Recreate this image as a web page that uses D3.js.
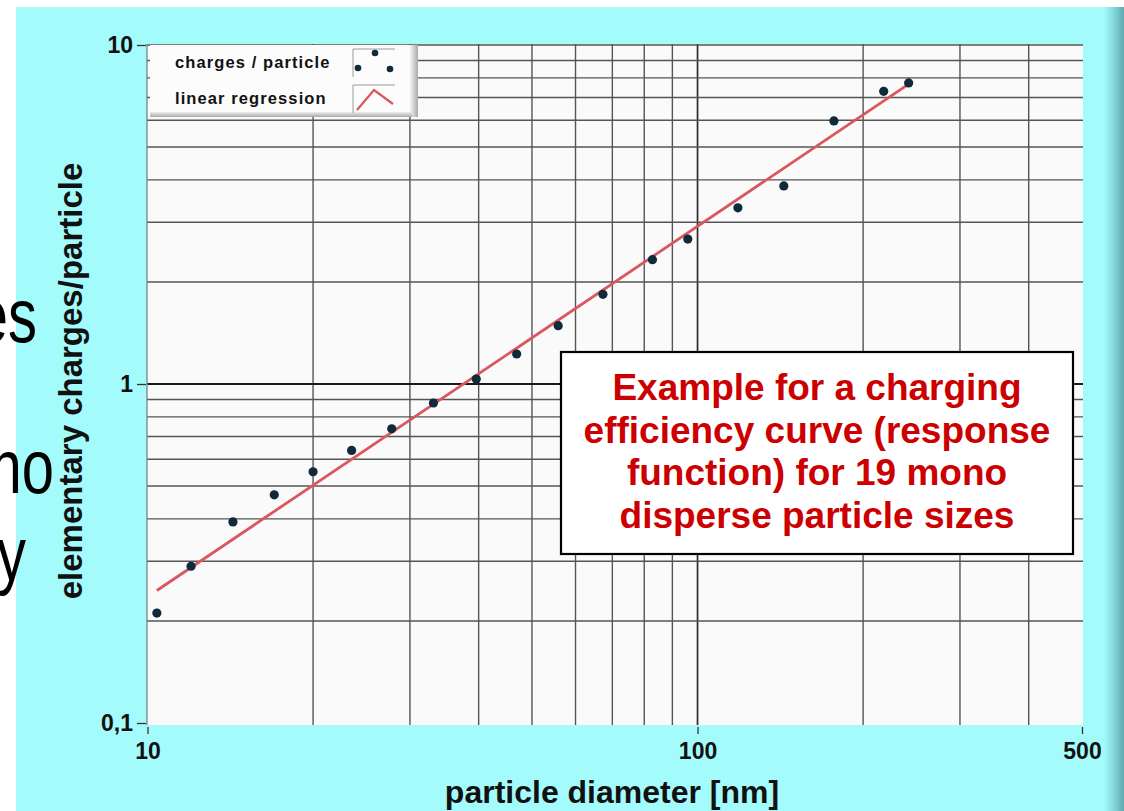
<!DOCTYPE html>
<html>
<head>
<meta charset="utf-8">
<script src="https://cdn.jsdelivr.net/npm/d3@7"></script>
<style>
  html, body { margin: 0; padding: 0; background: #ffffff; }
  svg { display: block; }
  text { font-family: "Liberation Sans", Arial, sans-serif; }
</style>
</head>
<body>
<svg id="chart" width="1124" height="811"></svg>
<script>
// ---- data ----
const diameters = [10.4, 12.0, 14.3, 17.0, 20.0, 23.5, 27.8, 33.1, 39.6, 46.9, 55.8, 67.3, 82.8, 96.0, 118.4, 143.5, 177, 218, 242];
const charges   = [0.211, 0.290, 0.392, 0.471, 0.551, 0.637, 0.738, 0.879, 1.034, 1.226, 1.486, 1.839, 2.326, 2.677, 3.31, 3.84, 5.97, 7.30, 7.73];
const regX = [10.4, 242];
const regY = [0.246, 7.67];
const xTickValues = [10, 100, 500];
const xTickLabels = ["10", "100", "500"];
const yTickValues = [0.1, 1, 10];
const yTickLabels = ["0,1", "1", "10"];
const xGridValues = [20, 30, 40, 50, 60, 70, 80, 90, 100, 200, 300, 400];
const yGridValues = [0.2, 0.3, 0.4, 0.5, 0.6, 0.7, 0.8, 0.9, 1, 2, 3, 4, 5, 6, 7, 8, 9, 10];
const legendLabels = ["charges / particle", "linear regression"];
const noteLines = ["Example for a charging", "efficiency curve (response", "function) for 19 mono", "disperse particle sizes"];
const slideFragments = [{t: "es", x: 37, y: 342}, {t: "no", x: 54, y: 493}, {t: "y", x: 26, y: 580}];

const svg = d3.select("#chart");
const defs = svg.append("defs");
const gRight = defs.append("linearGradient").attr("id", "edge").attr("x1", 0).attr("x2", 1).attr("y1", 0).attr("y2", 0);
gRight.append("stop").attr("offset", "0%").attr("stop-color", "#a4fbfb");
gRight.append("stop").attr("offset", "55%").attr("stop-color", "#7fd3d6");
gRight.append("stop").attr("offset", "100%").attr("stop-color", "#5fa9ad");
const gShadow = defs.append("linearGradient").attr("id", "shadowR").attr("x1", 0).attr("x2", 1);
gShadow.append("stop").attr("offset", "0%").attr("stop-color", "#f4f4f4");
gShadow.append("stop").attr("offset", "100%").attr("stop-color", "#a9a9a9");
const gShadowB = defs.append("linearGradient").attr("id", "shadowB").attr("x1", 0).attr("x2", 0).attr("y1", 0).attr("y2", 1);
gShadowB.append("stop").attr("offset", "0%").attr("stop-color", "#eeeeee");
gShadowB.append("stop").attr("offset", "100%").attr("stop-color", "#a9a9a9");

// frame background
svg.append("rect").attr("x", 16).attr("y", 7).attr("width", 1108).attr("height", 804).attr("fill", "#a4fbfb");
svg.append("rect").attr("x", 1104).attr("y", 7).attr("width", 20).attr("height", 804).attr("fill", "url(#edge)");

// scales
const x = d3.scaleLog().domain([10, 500]).range([147.5, 1082]);
const y = d3.scaleLog().domain([0.1, 10]).range([723, 45]);

// plot area
svg.append("rect").attr("x", 147).attr("y", 44).attr("width", 936).attr("height", 681).attr("fill", "#fafafa");

// grid
svg.append("g").selectAll("line").data(xGridValues).join("line")
  .attr("x1", d => x(d)).attr("x2", d => x(d)).attr("y1", 44).attr("y2", 725)
  .attr("stroke", d => d === 100 ? "#2a2a2a" : "#555").attr("stroke-width", d => d === 100 ? 1.7 : 1.4);
svg.append("g").selectAll("line").data(yGridValues).join("line")
  .attr("x1", 147).attr("x2", 1083).attr("y1", d => y(d)).attr("y2", d => y(d))
  .attr("stroke", d => d === 1 ? "#1a1a1a" : "#555").attr("stroke-width", d => d === 1 ? 1.8 : 1.4);
svg.append("line").attr("x1", 147).attr("x2", 147).attr("y1", 44).attr("y2", 725).attr("stroke", "#777").attr("stroke-width", 1.2);

// axes
const xAxis = svg.append("g").attr("transform", "translate(0,727)")
  .call(d3.axisBottom(x).tickValues(xTickValues).tickSize(7).tickPadding(9)
    .tickFormat((d, i) => xTickLabels[i]));
const yAxis = svg.append("g").attr("transform", "translate(146,0)")
  .call(d3.axisLeft(y).tickValues(yTickValues).tickSize(9).tickPadding(4)
    .tickFormat((d, i) => yTickLabels[i]));
[xAxis, yAxis].forEach(a => {
  a.select(".domain").remove();
  a.selectAll(".tick line").attr("stroke", "#333").attr("stroke-width", 1.3);
  a.selectAll(".tick text").attr("fill", "#111").style("font-size", "23px").style("font-weight", "bold")
    .style("font-family", "'Liberation Sans', Arial, sans-serif");
});

// regression line
const lineGen = d3.line().x(d => x(d[0])).y(d => y(d[1]));
svg.append("path").datum(d3.zip(regX, regY)).attr("d", lineGen)
  .attr("fill", "none").attr("stroke", "#d9585d").attr("stroke-width", 2.8);

// data points
svg.append("g").selectAll("circle").data(d3.zip(diameters, charges)).join("circle")
  .attr("cx", d => x(d[0])).attr("cy", d => y(d[1])).attr("r", 4.6).attr("fill", "#0f2a3a");

// legend
const lg = svg.append("g");
lg.append("rect").attr("x", 150).attr("y", 45).attr("width", 262).attr("height", 68).attr("fill", "#fcfcfc");
lg.append("rect").attr("x", 410).attr("y", 45).attr("width", 8).attr("height", 72).attr("fill", "url(#shadowR)");
lg.append("rect").attr("x", 150).attr("y", 112).attr("width", 262).attr("height", 5).attr("fill", "url(#shadowB)");
lg.selectAll("text").data(legendLabels).join("text")
  .attr("x", 175).attr("y", (d, i) => 68 + i * 36)
  .attr("fill", "#111").style("font-size", "16.5px").style("font-weight", "bold").style("letter-spacing", "1.1px")
  .text(d => d);
// symbol boxes
[[353, 49, 28], [353, 85, 28]].forEach(b => {
  lg.append("path").attr("d", `M${b[0]},${b[1] + b[2]} V${b[1]} H${b[0] + 42}`)
    .attr("fill", "none").attr("stroke", "#9a9a9a").attr("stroke-width", 1);
});
lg.selectAll("circle").data([[375, 53], [358, 68], [390, 69]]).join("circle")
  .attr("cx", d => d[0]).attr("cy", d => d[1]).attr("r", 3.3).attr("fill", "#0f2a3a");
lg.append("path").attr("d", "M357,110 L374,90 L393,104").attr("fill", "none")
  .attr("stroke", "#d9585d").attr("stroke-width", 2.2);

// axis titles
svg.append("text").attr("x", 612).attr("y", 803).attr("text-anchor", "middle")
  .attr("fill", "#111").style("font-size", "32px").style("font-weight", "bold")
  .text("particle diameter [nm]");
svg.append("text").attr("transform", "translate(82,381) rotate(-90)").attr("text-anchor", "middle")
  .attr("fill", "#111").style("font-size", "33px").style("font-weight", "bold")
  .text("elementary charges/particle");

// note box
svg.append("rect").attr("x", 561).attr("y", 352).attr("width", 512).attr("height", 202)
  .attr("fill", "#ffffff").attr("stroke", "#000").attr("stroke-width", 2.2);
svg.append("g").selectAll("text").data(noteLines).join("text")
  .attr("x", 817).attr("y", (d, i) => 400 + i * 42.7).attr("text-anchor", "middle")
  .attr("fill", "#cc0000").style("font-size", "37px").style("font-weight", "bold")
  .text(d => d);

// fragments of the slide text behind the picture (cut at the left edge, as in the reference)
svg.append("g").selectAll("text").data(slideFragments).join("text")
  .attr("transform", d => `translate(${d.x},${d.y}) scale(1,1.3)`)
  .attr("text-anchor", "end").attr("fill", "#000").style("font-size", "58px")
  .text(d => d.t);
</script>
</body>
</html>
